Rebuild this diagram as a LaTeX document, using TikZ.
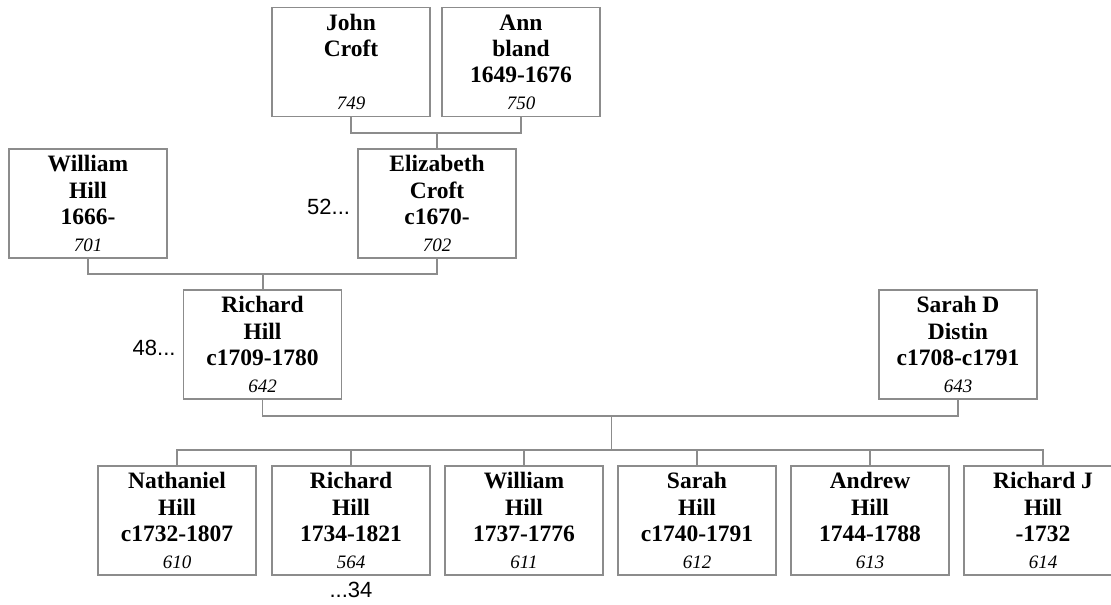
\documentclass[tikz,border=0pt]{standalone}
\usepackage{fontspec}
\setmainfont{Liberation Serif}
\newfontfamily\reffont{Liberation Sans}
\usetikzlibrary{positioning}
\definecolor{boxgray}{RGB}{140,140,140}

% name, surname, dates, person number
\newcommand{\person}[4]{#1\\#2\\#3\\{\fontsize{9.5}{12}\selectfont\mdseries\itshape #4}}

\begin{document}
\begin{tikzpicture}[x=0.5pt,y=-0.5pt,
    personbox/.style={draw=boxgray,line width=0.6pt,minimum width=79pt,minimum height=54.5pt,
      inner sep=0pt,align=center,font=\fontsize{11.75}{13.2}\selectfont\bfseries},
    link/.style={draw=boxgray,line width=0.6pt},
    moreref/.style={font=\reffont\fontsize{11}{13}\selectfont,inner sep=1pt}]
  \useasboundingbox (0,0) rectangle (1111,604);
  % great-grandparents
  \node[personbox] (john) at (351,62) {\person{John}{Croft}{\mbox{}}{749}};
  \node[personbox] (ann) at (521,62) {\person{Ann}{bland}{1649-1676}{750}};
  % grandparents
  \node[personbox] (will) at (88,203.5) {\person{William}{Hill}{1666-}{701}};
  \node[personbox] (eliz) at (437,203.5) {\person{Elizabeth}{Croft}{c1670-}{702}};
  % parents
  \node[personbox] (rich) at (262.5,344.5) {\person{Richard}{Hill}{c1709-1780}{642}};
  \node[personbox] (sarahd) at (958,344.5) {\person{Sarah D}{Distin}{c1708-c1791}{643}};
  % children
  \node[personbox] (nath) at (177,520.5) {\person{Nathaniel}{Hill}{c1732-1807}{610}};
  \node[personbox] (richb) at (351,520.5) {\person{Richard}{Hill}{1734-1821}{564}};
  \node[personbox] (willb) at (524,520.5) {\person{William}{Hill}{1737-1776}{611}};
  \node[personbox] (sarah) at (697,520.5) {\person{Sarah}{Hill}{c1740-1791}{612}};
  \node[personbox] (andrew) at (870,520.5) {\person{Andrew}{Hill}{1744-1788}{613}};
  \node[personbox] (richj) at (1043,520.5) {\person{Richard J}{Hill}{-1732}{614}};
  % cross references
  \node[moreref,left=2.5pt of eliz,yshift=-1.75pt] (refeliz) {52...};
  \node[moreref,left=2.5pt of rich,yshift=-1.75pt] (refrich) {48...};
  \node[moreref,below=2pt of richb] (refrichb) {...34};
  % couples
  \coordinate (croftjoin) at (437,133);
  \coordinate (hilljoin) at (263,274);
  \coordinate (famjoin) at (611.5,416);
  \coordinate (bus) at (611.5,450);
  \draw[link] (john.south) |- (croftjoin) -| (ann.south);
  \draw[link] (croftjoin) -- (eliz.north);
  \draw[link] (will.south) |- (hilljoin) -| (eliz.south);
  \draw[link] (hilljoin) -- (hilljoin |- rich.north);
  \draw[link] (rich.south) |- (famjoin) -| (sarahd.south);
  \draw[link] (famjoin) -- (bus);
  % children
  \draw[link] (nath.north) |- (bus) -| (richj.north);
  \foreach \c in {richb,willb,sarah,andrew}
    \draw[link] (\c.north) -- (\c.north |- bus);
\end{tikzpicture}
\end{document}
